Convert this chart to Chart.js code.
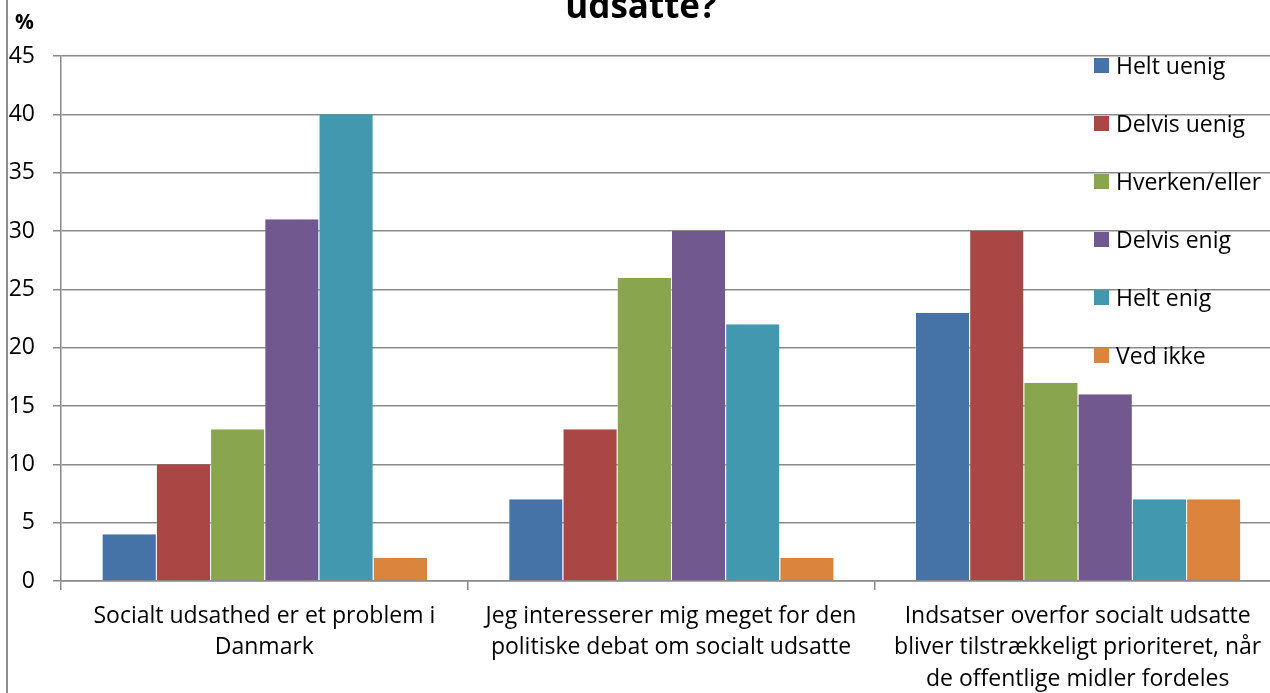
<!DOCTYPE html>
<html>
<head>
<meta charset="utf-8">
<script src="https://cdn.jsdelivr.net/npm/chart.js@4/dist/chart.umd.min.js"></script>
<style>
  html, body { margin: 0; padding: 0; background: #fff; overflow: hidden; }
  #wrap { position: absolute; left: 0; top: 0; width: 1290px; height: 693px; }
  #frame { position: absolute; left: 6px; top: 0; width: 0; height: 693px; border-left: 2px solid #8c8c8c; }
  #title { position: absolute; left: 0; width: 1282px; top: -15px; text-align: center;
           font: bold 35px "Open Sans", sans-serif; color: #000; line-height: 40px; }
  #pct { position: absolute; left: 15px; top: 11px; font: bold 21px "Open Sans", sans-serif; color: #000; line-height: 21px; }
  #legend { position: absolute; left: 1094px; top: 50px; font: 23px "Open Sans", sans-serif; color: #000; }
  .item { height: 58px; display: flex; align-items: flex-start; line-height: 30px; white-space: nowrap; }
  .sw { width: 15px; height: 15px; margin-top: 8px; margin-right: 7px; flex: none; }
</style>
</head>
<body>
<div id="wrap"><canvas id="chart"></canvas></div>
<div id="frame"></div>
<div id="title">udsatte?</div>
<div id="pct">%</div>
<div id="legend"></div>
<script>
// kategorier og svar
const categories = [
    ["Socialt udsathed er et problem i", "Danmark"],
    ["Jeg interesserer mig meget for den", "politiske debat om socialt udsatte"],
    ["Indsatser overfor socialt udsatte", "bliver tilstrækkeligt prioriteret, når", "de offentlige midler fordeles"]
];
const seriesNames = ["Helt uenig", "Delvis uenig", "Hverken/eller", "Delvis enig", "Helt enig", "Ved ikke"];
const seriesColors = ["#4572A7", "#AA4643", "#89A54E", "#71588F", "#4198AF", "#DB843D"];

const heltUenig = [4, 7, 23];
const delvisUenig = [10, 13, 30];
const hverkenEller = [13, 26, 17];
const delvisEnig = [31, 30, 16];
const heltEnig = [40, 22, 7];
const vedIkke = [2, 2, 7];

const yTicks = [0, 5, 10, 15, 20, 25, 30, 35, 40, 45];

const seriesValues = [heltUenig, delvisUenig, hverkenEller, delvisEnig, heltEnig, vedIkke];

const datasets = seriesValues.map((vals, i) => ({
    label: seriesNames[i],
    data: vals,
    backgroundColor: seriesColors[i],
    borderColor: 'rgba(255,255,255,0.35)',
    borderWidth: { left: 1, right: 0, top: 0, bottom: 0 },
    categoryPercentage: 0.8,
    barPercentage: 1.0
}));

// legende som html
const legend = document.getElementById('legend');
seriesNames.forEach((name, i) => {
    const row = document.createElement('div');
    row.className = 'item';
    row.innerHTML = '<span class="sw" style="background:' + seriesColors[i] + '"></span><span>' + name + '</span>';
    legend.appendChild(row);
});

const gridColor = '#8a8a8a';
const ctx = document.getElementById('chart').getContext('2d');
new Chart(ctx, {
    type: 'bar',
    data: { labels: categories, datasets: datasets },
    options: {
        responsive: true,
        maintainAspectRatio: false,
        animation: false,
        layout: { padding: { top: 56, right: 9, left: 0, bottom: 0 } },
        plugins: { legend: { display: false }, tooltip: { enabled: false } },
        scales: {
            x: {
                offset: true,
                grid: { offset: true, drawOnChartArea: false, drawTicks: true, tickLength: 9, color: gridColor, lineWidth: 1.5 },
                border: { color: gridColor, width: 1.5 },
                ticks: { color: '#000', font: { family: 'Open Sans', size: 23, lineHeight: 1.36 }, padding: 11, maxRotation: 0, autoSkip: false },
                afterFit: s => { s.height = 112; }
            },
            y: {
                min: 0,
                max: 45,
                afterBuildTicks: s => { s.ticks = yTicks.map(v => ({ value: v })); },
                grid: { color: gridColor, lineWidth: 1.5, tickLength: 8 },
                border: { color: gridColor, width: 1.5 },
                ticks: { color: '#000', font: { family: 'Open Sans', size: 23 }, padding: 18 },
                afterFit: s => { s.width = 61; }
            }
        }
    }
});
</script>
</body>
</html>
